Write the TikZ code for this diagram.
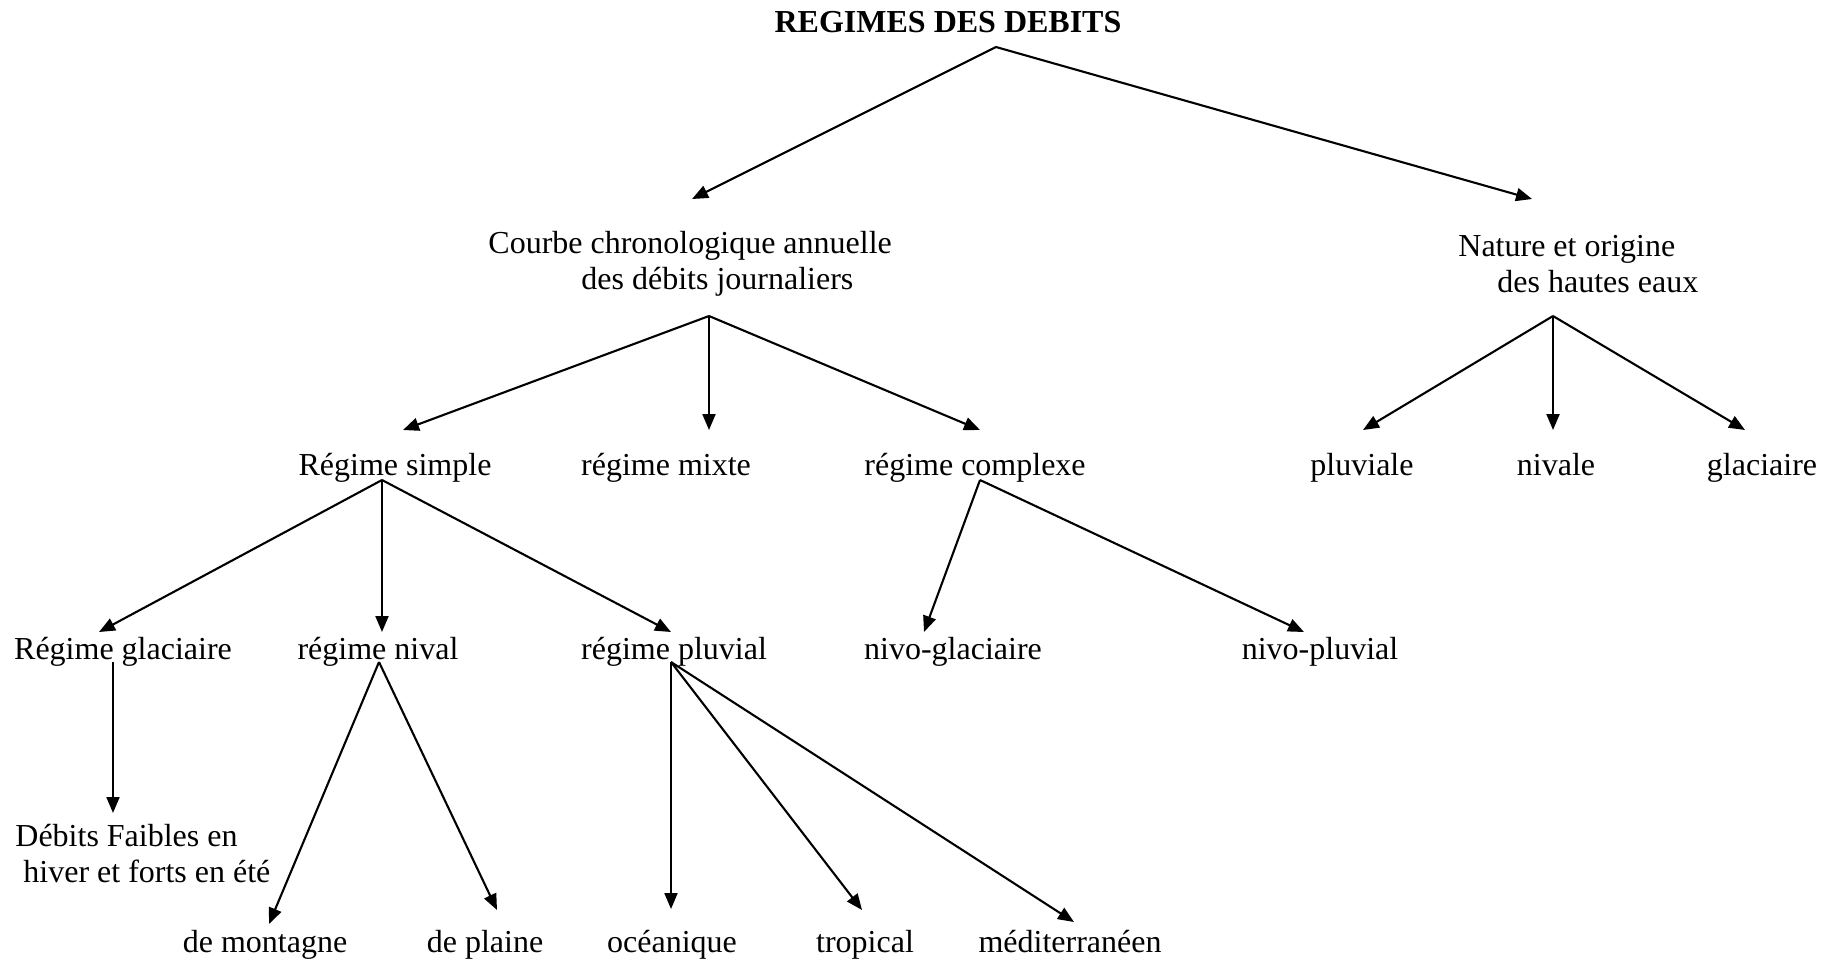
\documentclass[tikz,border=0pt]{standalone}
\usepackage{fontspec}
\setmainfont{Liberation Serif}
\usetikzlibrary{arrows.meta}
\begin{document}
\begin{tikzpicture}[x=0.5pt,y=-0.5pt,
  every node/.style={font=\fontsize{16}{18}\selectfont, inner sep=0pt, text height=12pt, text depth=4pt},
  lbl/.style={},
  twoline/.style={align=left, anchor=west, text height=, text depth=},
  arr/.style={-{Triangle[length=8pt,width=6.5pt]}, line width=1.05pt}]
\useasboundingbox[fill=white] (0,0) rectangle (1834,960);

% Level 0
\node[font=\fontsize{16}{18}\selectfont\bfseries] (title) at (948,24) {REGIMES DES DEBITS};

% Level 1
\node[twoline] (courbe) at (488,264) {Courbe chronologique annuelle\\\hspace*{46.5pt}des débits journaliers};
\node[twoline] (nature) at (1458,264) {Nature et origine\\\hspace*{19.5pt}des hautes eaux};

% Level 2
\node[lbl] (simple) at (395,467) {Régime simple};
\node[lbl] (mixte) at (666,467) {régime mixte};
\node[lbl] (complexe) at (975,467) {régime complexe};
\node[lbl] (pluviale) at (1362,467) {pluviale};
\node[lbl] (nivale) at (1556,467) {nivale};
\node[lbl] (glaciaire) at (1762,467) {glaciaire};

% Level 3
\node[lbl] (rglac) at (123,651) {Régime glaciaire};
\node[lbl] (rnival) at (378,651) {régime nival};
\node[lbl] (rpluv) at (674,651) {régime pluvial};
\node[lbl] (nivoglac) at (953,651) {nivo-glaciaire};
\node[lbl] (nivopluv) at (1320,651) {nivo-pluvial};

% Level 4
\node[twoline] (debits) at (15,854) {Débits Faibles en\\\hspace*{4pt}hiver et forts en été};
\node[lbl] (montagne) at (265,944) {de montagne};
\node[lbl] (plaine) at (485,944) {de plaine};
\node[lbl] (oceanique) at (672,944) {océanique};
\node[lbl] (tropical) at (865,944) {tropical};
\node[lbl] (medit) at (1070,944) {méditerranéen};

% connector points
\coordinate (title-o) at (996,47);
\coordinate (courbe-i) at (692,199);
\coordinate (nature-i) at (1532,199);
\coordinate (courbe-o) at (709,316);
\coordinate (simple-i) at (403,430);
\coordinate (mixte-i) at (709,430);
\coordinate (complexe-i) at (980,430);
\coordinate (nature-o) at (1553,316);
\coordinate (pluviale-i) at (1363,430);
\coordinate (nivale-i) at (1553,430);
\coordinate (glaciaire-i) at (1745,430);
\coordinate (simple-o) at (382,480);
\coordinate (rglac-i) at (99,632);
\coordinate (rnival-i) at (382,632);
\coordinate (rpluv-i) at (671,632);
\coordinate (complexe-o) at (980,480);
\coordinate (nivoglac-i) at (924,632);
\coordinate (nivopluv-i) at (1304,632);
\coordinate (rglac-o) at (113,662);
\coordinate (debits-i) at (113,813);
\coordinate (rnival-o) at (379,662);
\coordinate (montagne-i) at (269,924);
\coordinate (plaine-i) at (497,910);
\coordinate (rpluv-o) at (671,662);
\coordinate (oceanique-i) at (671,909);
\coordinate (tropical-i) at (862,910);
\coordinate (medit-i) at (1074,922);

\draw[arr] (title-o) -- (courbe-i);
\draw[arr] (title-o) -- (nature-i);
\draw[arr] (courbe-o) -- (simple-i);
\draw[arr] (courbe-o) -- (mixte-i);
\draw[arr] (courbe-o) -- (complexe-i);
\draw[arr] (nature-o) -- (pluviale-i);
\draw[arr] (nature-o) -- (nivale-i);
\draw[arr] (nature-o) -- (glaciaire-i);
\draw[arr] (simple-o) -- (rglac-i);
\draw[arr] (simple-o) -- (rnival-i);
\draw[arr] (simple-o) -- (rpluv-i);
\draw[arr] (complexe-o) -- (nivoglac-i);
\draw[arr] (complexe-o) -- (nivopluv-i);
\draw[arr] (rglac-o) -- (debits-i);
\draw[arr] (rnival-o) -- (montagne-i);
\draw[arr] (rnival-o) -- (plaine-i);
\draw[arr] (rpluv-o) -- (oceanique-i);
\draw[arr] (rpluv-o) -- (tropical-i);
\draw[arr] (rpluv-o) -- (medit-i);
\end{tikzpicture}
\end{document}
